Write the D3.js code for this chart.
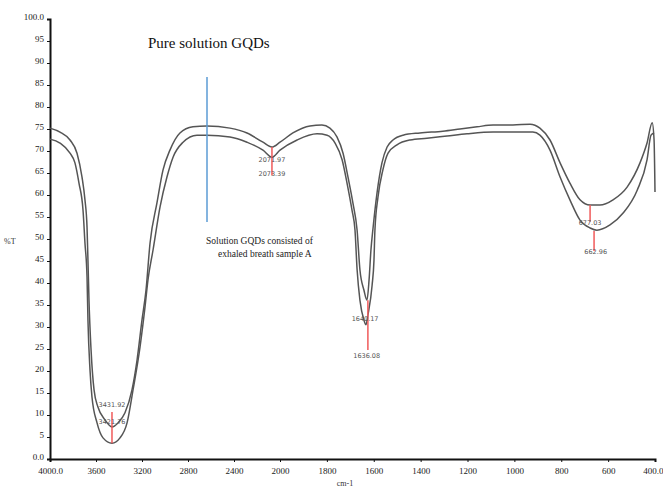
<!DOCTYPE html>
<html>
<head>
<meta charset="utf-8">
<script src="https://cdn.jsdelivr.net/npm/d3@7"></script>
<style>
  body { margin: 0; background: #fff; }
  .axis text { font-family: "Liberation Serif", serif; font-size: 9px; fill: #222; }
  .axis path, .axis line { stroke: #111; }
</style>
</head>
<body>
<div id="chart"></div>
<script>
// upper trace (pure solution GQDs)
var upperWn = [4000, 3913, 3826, 3765, 3722, 3696, 3678, 3670, 3661, 3643, 3617, 3583, 3522, 3461, 3409, 3348, 3287, 3243, 3200, 3165, 3130, 3070, 3017, 2957, 2870, 2757, 2635, 2435, 2287, 2148, 2070, 2000, 1945, 1872, 1821, 1787, 1757, 1731, 1710, 1689, 1671, 1659, 1642, 1629, 1620, 1612, 1603, 1586, 1565, 1543, 1518, 1475, 1403, 1305, 1232, 1159, 1091, 1006, 933, 891, 848, 805, 763, 720, 677, 635, 579, 519, 464, 434, 412, 404, 400];
var upperT = [75.2, 74.3, 72.5, 69.5, 64.1, 58.9, 52.7, 45.2, 36.1, 24.8, 15.7, 11.8, 8.9, 7.3, 8.2, 10.5, 15.7, 22.5, 31.6, 38.4, 49.1, 58.2, 65.7, 70.2, 74.1, 75.5, 75.7, 75.2, 74.1, 72.0, 70.9, 72.0, 74.1, 75.7, 75.9, 75.2, 73.2, 69.5, 64.1, 58.2, 52.0, 43.0, 38.4, 36.1, 40.7, 47.5, 52.5, 60.5, 67.3, 70.9, 72.5, 73.6, 74.1, 74.5, 75.0, 75.5, 75.9, 75.9, 76.1, 75.2, 72.5, 67.3, 62.7, 58.9, 57.7, 57.7, 58.9, 61.8, 67.3, 71.8, 76.4, 72.5, 60.7];

// lower trace (GQDs with exhaled breath sample A)
var lowerWn = [4000, 3913, 3826, 3783, 3748, 3713, 3696, 3678, 3670, 3652, 3635, 3591, 3539, 3461, 3391, 3330, 3278, 3217, 3174, 3148, 3104, 3043, 2983, 2930, 2843, 2722, 2635, 2435, 2287, 2148, 2070, 2000, 1927, 1842, 1799, 1765, 1735, 1714, 1693, 1680, 1671, 1659, 1642, 1633, 1625, 1607, 1599, 1595, 1582, 1561, 1539, 1501, 1445, 1373, 1287, 1202, 1091, 1006, 921, 891, 848, 805, 763, 720, 677, 648, 592, 536, 476, 434, 417, 404];
var lowerT = [72.7, 71.8, 69.5, 67.3, 62.7, 56.6, 49.1, 41.4, 31.6, 20.2, 14.1, 8.2, 4.8, 3.6, 4.8, 8.2, 15.7, 25.5, 34.5, 40.7, 47.5, 57.3, 64.1, 68.6, 72.0, 73.6, 73.6, 73.2, 72.0, 70.2, 68.6, 70.2, 72.5, 73.9, 73.6, 71.8, 68.0, 62.7, 56.6, 52.0, 43.0, 36.1, 31.6, 30.5, 32.7, 39.5, 45.2, 52.0, 59.5, 65.7, 69.5, 71.4, 72.5, 72.9, 73.4, 73.9, 74.3, 74.3, 74.3, 73.6, 70.2, 64.1, 58.9, 54.3, 52.5, 52.0, 53.2, 55.9, 61.1, 68.0, 73.6, 74.1];

// red peak markers: position, top %T, bottom %T
var markerWn = [3461, 2070, 1625, 677, 660];
var markerTop = [10.7, 70.9, 36.1, 57.7, 51.8];
var markerBottom = [3.6, 64.5, 24.8, 53.9, 47.3];

// peak labels
var peakLabels = ["3431.92", "3421.76", "2071.97", "2073.39", "1640.17", "1636.08", "677.03", "662.96"];
var peakLabelWn = [3461, 3461, 2070, 2070, 1637, 1630, 677, 653];
var peakLabelT = [11.8, 8.0, 67.5, 64.4, 31.3, 23.0, 53.2, 46.6];

var xTicks = [4000, 3600, 3200, 2800, 2400, 2000, 1800, 1600, 1400, 1200, 1000, 800, 600, 400];
var yTicks = d3.range(0, 101, 5);

var svg = d3.select("#chart").append("svg")
    .attr("width", 663)
    .attr("height", 488);

// instrument scale changes at 2000 cm-1
var x = d3.scaleLinear()
    .domain([4000, 2000, 400])
    .range([50, 280, 655]);

var y = d3.scaleLinear()
    .domain([0, 100])
    .range([459, 19]);

var x_axis = d3.axisBottom(x)
    .tickValues(xTicks)
    .tickSize(3)
    .tickFormat(function(d){ return (d === 4000 || d === 400) ? d.toFixed(1) : d; });

var y_axis = d3.axisLeft(y)
    .tickValues(yTicks)
    .tickSize(3)
    .tickFormat(function(d){ return (d === 0 || d === 100) ? d.toFixed(1) : d; });

var gx = svg.append("g")
    .attr("class", "x axis")
    .attr("transform", "translate(0, 459)")
    .call(x_axis);
gx.select(".domain").attr("stroke-width", 2);
gx.selectAll("text").attr("dy", "1.05em");
// last label sits at the right edge
gx.selectAll(".tick text").filter(function(d){ return d === 400; })
    .attr("text-anchor", "end").attr("dx", "8px");

var gy = svg.append("g")
    .attr("class", "y axis")
    .attr("transform", "translate(50, 0)")
    .call(y_axis);
gy.select(".domain").attr("stroke-width", 2);
gy.selectAll("text").attr("dy", "0.1em");

svg.append("text")
    .text("%T")
    .attr("x", 4)
    .attr("y", 244)
    .attr("font-family", "Liberation Serif, serif")
    .attr("font-size", "8px")
    .attr("fill", "#333");

svg.append("text")
    .text("cm-1")
    .attr("x", 345)
    .attr("y", 486)
    .attr("text-anchor", "middle")
    .attr("font-family", "Liberation Serif, serif")
    .attr("font-size", "8px")
    .attr("fill", "#333");

var line = d3.line()
    .x(function(d){ return x(d[0]); })
    .y(function(d){ return y(d[1]); })
    .curve(d3.curveMonotoneX);

var upper = upperWn.map(function(w, i){ return [w, upperT[i]]; });
var lower = lowerWn.map(function(w, i){ return [w, lowerT[i]]; });

[upper, lower].forEach(function(s){
    svg.append("path")
        .datum(s)
        .attr("d", line)
        .attr("fill", "none")
        .attr("stroke", "#555")
        .attr("stroke-width", 1.5);
});

markerWn.forEach(function(w, i){
    svg.append("line")
        .attr("x1", x(w)).attr("x2", x(w))
        .attr("y1", y(markerTop[i])).attr("y2", y(markerBottom[i]))
        .attr("stroke", "#f05a5a")
        .attr("stroke-width", 1.5);
});

svg.selectAll(".peak")
    .data(peakLabels)
    .enter().append("text")
    .attr("class", "peak")
    .attr("x", function(d, i){ return x(peakLabelWn[i]); })
    .attr("y", function(d, i){ return y(peakLabelT[i]); })
    .attr("text-anchor", "middle")
    .attr("font-family", "DejaVu Sans, sans-serif")
    .attr("font-size", "6.5px")
    .attr("fill", "#555")
    .text(function(d){ return d; });

// blue divider
svg.append("line")
    .attr("x1", 207).attr("x2", 207)
    .attr("y1", 77).attr("y2", 222)
    .attr("stroke", "#5b9bd5")
    .attr("stroke-width", 1.5);

svg.append("text")
    .text("Pure solution GQDs")
    .attr("x", 148)
    .attr("y", 48)
    .attr("font-family", "Liberation Serif, serif")
    .attr("font-size", "15px")
    .attr("fill", "#111");

svg.append("text")
    .text("Solution GQDs consisted of")
    .attr("x", 206)
    .attr("y", 244)
    .attr("font-family", "Liberation Serif, serif")
    .attr("font-size", "9.5px")
    .attr("fill", "#222");

svg.append("text")
    .text("exhaled breath sample A")
    .attr("x", 218)
    .attr("y", 257)
    .attr("font-family", "Liberation Serif, serif")
    .attr("font-size", "9.5px")
    .attr("fill", "#222");
</script>
</body>
</html>
